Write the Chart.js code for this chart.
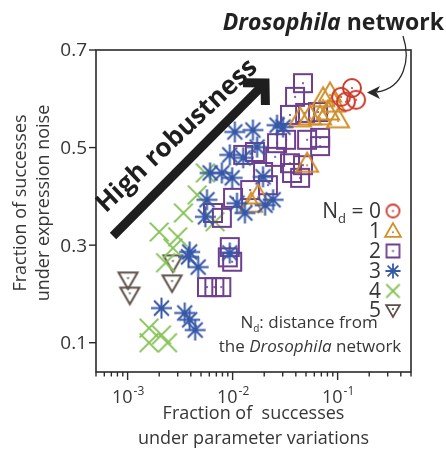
<!DOCTYPE html>
<html>
<head>
<meta charset="utf-8">
<script src="https://cdn.jsdelivr.net/npm/chart.js@4.4.1/dist/chart.umd.min.js"></script>
<style>
  html, body { margin: 0; padding: 0; background: #fff; }
  #wrap { width: 446px; height: 454px; position: relative; }
</style>
</head>
<body>
<div id="wrap"><canvas id="c"></canvas></div>
<script>
// Robustness of network variants, grouped by distance N_d from the Drosophila network
const groupNames = ['0', '1', '2', '3', '4', '5'];

const nd0X = [0.108, 0.137, 0.150, 0.120];
const nd0Y = [0.604, 0.622, 0.598, 0.594];

const nd1X = [0.0847, 0.0727, 0.0924, 0.0439, 0.0546, 0.068, 0.081, 0.101, 0.0512, 0.0175, 0.0150];
const nd1Y = [0.612, 0.602, 0.591, 0.561, 0.565, 0.565, 0.575, 0.559, 0.468, 0.403, 0.386];

const nd2X = [0.0468, 0.0393, 0.0352, 0.0490, 0.0651, 0.0512, 0.0681, 0.0681, 0.0265, 0.0323,
              0.0254, 0.0352, 0.0468, 0.0368, 0.0439, 0.0195, 0.0163, 0.0126, 0.0147, 0.0101,
              0.0079, 0.0065, 0.0094, 0.0099, 0.0057, 0.0067, 0.0078, 0.0217, 0.0090];
const nd2Y = [0.632, 0.604, 0.567, 0.571, 0.573, 0.516, 0.520, 0.503, 0.509, 0.516,
              0.481, 0.468, 0.464, 0.448, 0.438, 0.450, 0.491, 0.485, 0.413, 0.397,
              0.356, 0.366, 0.296, 0.266, 0.214, 0.214, 0.214, 0.423, 0.275];

const nd3X = [0.0105, 0.0156, 0.0265, 0.0302, 0.0171, 0.0094, 0.0126, 0.0061, 0.0079, 0.0099,
              0.0057, 0.0055, 0.0110, 0.0131, 0.0204, 0.0243, 0.0039, 0.0094, 0.0038, 0.0047,
              0.0021, 0.0035, 0.0039, 0.0044, 0.0195];
const nd3Y = [0.532, 0.536, 0.546, 0.542, 0.501, 0.485, 0.479, 0.448, 0.448, 0.438,
              0.393, 0.358, 0.386, 0.366, 0.382, 0.393, 0.286, 0.284, 0.276, 0.255,
              0.171, 0.161, 0.147, 0.126, 0.440];

const nd4X = [0.0055, 0.0046, 0.0034, 0.0068, 0.0020, 0.0030, 0.0027, 0.0023, 0.0016, 0.0021, 0.0016, 0.0024];
const nd4Y = [0.448, 0.403, 0.366, 0.348, 0.327, 0.317, 0.294, 0.264, 0.130, 0.116, 0.100, 0.100];

const nd5X = [0.00101, 0.00105, 0.0027, 0.00265];
const nd5Y = [0.229, 0.198, 0.264, 0.223];

// axis ticks
const xMajorTicks = [0.001, 0.01, 0.1];
const xTickExponents = ['-3', '-2', '-1'];
const yTicks = [0.1, 0.3, 0.5, 0.7];
const yTickLabels = ['0.1', '0.3', '0.5', '0.7'];

const FONT = '"Open Sans", "Noto Sans", sans-serif';
const TEXT = '#363636';

const colors = ['#cc3a2c', '#d18f2a', '#6d3f8e', '#3658a8', '#86c356', '#5c4f48'];

// marker glyphs drawn once onto small canvases
function makeMarker(kind, color, s, lw) {
  const pad = 3;
  const w = Math.ceil(s + pad * 2);
  const c = document.createElement('canvas');
  c.width = w; c.height = w;
  const g = c.getContext('2d');
  const cx = w / 2, cy = w / 2, r = s / 2;
  g.strokeStyle = color; g.fillStyle = color;
  g.lineWidth = lw; g.lineJoin = 'miter'; g.lineCap = 'butt';
  let dot = null;
  g.beginPath();
  if (kind === 'circle') {
    g.arc(cx, cy, r, 0, Math.PI * 2);
    g.stroke(); dot = [cx, cy];
  } else if (kind === 'tri') {
    const h = s * 0.866;
    g.moveTo(cx, cy - h / 2 - 1); g.lineTo(cx + r, cy + h / 2 - 1); g.lineTo(cx - r, cy + h / 2 - 1); g.closePath();
    g.stroke(); dot = [cx, cy + h / 6 - 1];
  } else if (kind === 'dtri') {
    const h = s * 0.866;
    g.moveTo(cx, cy + h / 2 + 1); g.lineTo(cx + r, cy - h / 2 + 1); g.lineTo(cx - r, cy - h / 2 + 1); g.closePath();
    g.stroke(); dot = [cx, cy - h / 6 + 1];
  } else if (kind === 'square') {
    g.rect(cx - r, cy - r, s, s);
    g.stroke(); dot = [cx, cy];
  } else if (kind === 'star') {
    for (let k = 0; k < 4; k++) {
      const a = k * Math.PI / 4;
      g.moveTo(cx - r * Math.cos(a), cy - r * Math.sin(a));
      g.lineTo(cx + r * Math.cos(a), cy + r * Math.sin(a));
    }
    g.stroke();
  } else if (kind === 'x') {
    const d = r * 0.72;
    g.moveTo(cx - d, cy - d); g.lineTo(cx + d, cy + d);
    g.moveTo(cx + d, cy - d); g.lineTo(cx - d, cy + d);
    g.stroke();
  }
  if (dot) {
    g.beginPath(); g.arc(dot[0], dot[1], 1.1, 0, Math.PI * 2); g.fill();
  }
  return c;
}

const kinds = ['circle', 'tri', 'square', 'star', 'x', 'dtri'];
const sizes = [18, 22, 18, 21, 26, 19];
const plotMarkers = kinds.map((k, i) => makeMarker(k, colors[i], sizes[i], 2));
const legendMarkers = kinds.map((k, i) => makeMarker(k, colors[i], sizes[i] * 0.72, 1.8));

const seriesX = [nd0X, nd1X, nd2X, nd3X, nd4X, nd5X];
const seriesY = [nd0Y, nd1Y, nd2Y, nd3Y, nd4Y, nd5Y];
const drawOrder = [2, 3, 4, 1, 5, 6];

const datasets = groupNames.map((name, i) => ({
  label: 'N_d = ' + name,
  data: seriesX[i].map((v, j) => ({ x: v, y: seriesY[i][j] })),
  pointStyle: plotMarkers[i],
  showLine: false,
  order: drawOrder[i]
}));

function line(ctx, x1, y1, x2, y2) {
  ctx.beginPath(); ctx.moveTo(x1, y1); ctx.lineTo(x2, y2); ctx.stroke();
}

// "N" followed by a subscript "d", then the rest of the text; returns end x
function drawNd(ctx, x, y, size, rest) {
  ctx.textAlign = 'left'; ctx.textBaseline = 'alphabetic';
  ctx.font = size + 'px ' + FONT;
  ctx.fillText('N', x, y);
  let cx = x + ctx.measureText('N').width;
  ctx.font = Math.round(size * 0.6) + 'px ' + FONT;
  ctx.fillText('d', cx, y + size * 0.22);
  cx += ctx.measureText('d').width;
  ctx.font = size + 'px ' + FONT;
  ctx.fillText(rest, cx, y);
  return cx + ctx.measureText(rest).width;
}

const decor = {
  id: 'decor',
  afterDraw(chart) {
    const { ctx, chartArea: a, scales: { x, y } } = chart;
    ctx.save();
    ctx.strokeStyle = '#2a2a2a';
    ctx.fillStyle = TEXT;
    ctx.lineWidth = 1.6;
    ctx.strokeRect(a.left, a.top, a.right - a.left, a.bottom - a.top);

    // x ticks: major at decades, minor at 2..9
    ctx.lineWidth = 1.4;
    for (let e = -4; e <= -1; e++) {
      for (let m = 1; m <= 9; m++) {
        const v = m * Math.pow(10, e);
        if (v < x.min * 0.999 || v > x.max * 1.001) continue;
        const px = x.getPixelForValue(v);
        line(ctx, px, a.bottom, px, a.bottom + (m === 1 ? 8 : 4.5));
      }
    }
    // x tick labels with superscript exponents
    xMajorTicks.forEach((v, i) => {
      const px = x.getPixelForValue(v);
      ctx.font = '18px ' + FONT;
      const wBase = ctx.measureText('10').width;
      ctx.font = '12px ' + FONT;
      const wExp = ctx.measureText(xTickExponents[i]).width;
      const x0 = px - (wBase + wExp) / 2;
      ctx.textAlign = 'left'; ctx.textBaseline = 'alphabetic';
      ctx.font = '18px ' + FONT;
      ctx.fillText('10', x0, a.bottom + 31);
      ctx.font = '12px ' + FONT;
      ctx.fillText(xTickExponents[i], x0 + wBase + 1, a.bottom + 23);
    });

    // y ticks
    ctx.font = '19px ' + FONT;
    ctx.textAlign = 'right'; ctx.textBaseline = 'middle';
    yTicks.forEach((v, i) => {
      const py = y.getPixelForValue(v);
      line(ctx, a.left - 7, py, a.left, py);
      ctx.fillText(yTickLabels[i], a.left - 9, py + 1);
    });

    // axis titles
    ctx.font = '18px ' + FONT;
    ctx.textAlign = 'center'; ctx.textBaseline = 'middle';
    const cxp = (a.left + a.right) / 2;
    ctx.fillText('Fraction of  successes', cxp, 414);
    ctx.fillText('under parameter variations', cxp, 439);
    ctx.save();
    ctx.translate(21, 203);
    ctx.rotate(-Math.PI / 2);
    ctx.fillText('Fraction of successes', 0, 0);
    ctx.fillText('under expression noise', 0, 23);
    ctx.restore();

    // "Drosophila network" callout, sized to span x = 214..444
    ctx.fillStyle = '#222';
    ctx.textBaseline = 'alphabetic'; ctx.textAlign = 'left';
    let hs = 21;
    ctx.font = 'italic bold ' + hs + 'px ' + FONT;
    let wD = ctx.measureText('Drosophila').width;
    ctx.font = 'bold ' + hs + 'px ' + FONT;
    let wN = ctx.measureText(' network').width;
    hs = Math.min(23, hs * 229 / (wD + wN));
    ctx.font = 'italic bold ' + hs + 'px ' + FONT;
    wD = ctx.measureText('Drosophila').width;
    ctx.font = 'bold ' + hs + 'px ' + FONT;
    wN = ctx.measureText(' network').width;
    const tx = 444 - wD - wN;
    ctx.font = 'italic bold ' + hs + 'px ' + FONT;
    ctx.fillText('Drosophila', tx, 30);
    ctx.font = 'bold ' + hs + 'px ' + FONT;
    ctx.fillText(' network', tx + wD, 30);

    ctx.strokeStyle = '#2a2a2a'; ctx.lineWidth = 1.3;
    ctx.beginPath();
    ctx.moveTo(403, 36);
    ctx.bezierCurveTo(411, 60, 404, 88, 377, 92);
    ctx.stroke();
    ctx.fillStyle = '#2a2a2a';
    ctx.beginPath();
    ctx.moveTo(367, 92.5); ctx.lineTo(380, 86); ctx.lineTo(376.5, 92.5); ctx.lineTo(380, 99); ctx.closePath();
    ctx.fill();

    // "High robustness" arrow
    const p0 = [113, 236], p1 = [265, 83];
    const ang = Math.atan2(p1[1] - p0[1], p1[0] - p0[0]);
    ctx.strokeStyle = '#1e1e1e'; ctx.lineWidth = 9; ctx.lineCap = 'butt'; ctx.lineJoin = 'miter';
    line(ctx, p0[0], p0[1], p1[0] - 4 * Math.cos(ang), p1[1] - 4 * Math.sin(ang));
    const arm = 22, spread = 0.8;
    ctx.beginPath();
    ctx.moveTo(p1[0] - arm * Math.cos(ang - spread), p1[1] - arm * Math.sin(ang - spread));
    ctx.lineTo(p1[0], p1[1]);
    ctx.lineTo(p1[0] - arm * Math.cos(ang + spread), p1[1] - arm * Math.sin(ang + spread));
    ctx.stroke();

    ctx.save();
    ctx.translate(177, 136);
    ctx.rotate(-0.757);
    ctx.fillStyle = '#1e1e1e';
    ctx.font = 'bold 26px ' + FONT;
    ctx.textAlign = 'center'; ctx.textBaseline = 'middle';
    ctx.fillText('High robustness', 0, 0);
    ctx.restore();

    // legend
    ctx.fillStyle = TEXT;
    const rowY = [211, 231, 251, 271, 291, 310];
    const numRight = 381;
    groupNames.forEach((name, i) => {
      if (i === 0) {
        ctx.font = '21px ' + FONT;
        const wRest = ctx.measureText(' = ' + name).width;
        const wNn = ctx.measureText('N').width;
        ctx.font = '13px ' + FONT;
        const wd = ctx.measureText('d').width;
        drawNd(ctx, numRight - wRest - wd - wNn, rowY[i] + 7, 21, ' = ' + name);
      } else {
        ctx.font = '21px ' + FONT;
        ctx.textAlign = 'right'; ctx.textBaseline = 'alphabetic';
        ctx.fillText(name, numRight, rowY[i] + 7);
      }
      const mk = legendMarkers[i];
      ctx.drawImage(mk, 393 - mk.width / 2, rowY[i] - mk.height / 2);
    });

    // N_d definition note
    ctx.fillStyle = TEXT;
    ctx.font = '17px ' + FONT;
    const noteA = ': distance from';
    const wNote = ctx.measureText('N').width + 8 + ctx.measureText(noteA).width;
    drawNd(ctx, 310 - wNote / 2, 328, 17, noteA);
    ctx.font = '17px ' + FONT;
    const wThe = ctx.measureText('the ').width;
    ctx.font = 'italic 17px ' + FONT;
    const wDro = ctx.measureText('Drosophila').width;
    ctx.font = '17px ' + FONT;
    const wNet = ctx.measureText(' network').width;
    const lx = 310 - (wThe + wDro + wNet) / 2;
    ctx.textAlign = 'left';
    ctx.fillText('the ', lx, 352);
    ctx.font = 'italic 17px ' + FONT;
    ctx.fillText('Drosophila', lx + wThe, 352);
    ctx.font = '17px ' + FONT;
    ctx.fillText(' network', lx + wThe + wDro, 352);

    ctx.restore();
  }
};

new Chart(document.getElementById('c'), {
  type: 'scatter',
  data: { datasets },
  options: {
    responsive: true,
    maintainAspectRatio: false,
    animation: false,
    events: [],
    layout: { padding: { left: 96, right: 35, top: 50, bottom: 82 } },
    plugins: { legend: { display: false }, tooltip: { enabled: false } },
    scales: {
      x: { type: 'logarithmic', display: false, min: 0.0005, max: 0.5 },
      y: { type: 'linear', display: false, min: 0.04, max: 0.7 }
    }
  },
  plugins: [decor]
});
</script>
</body>
</html>
